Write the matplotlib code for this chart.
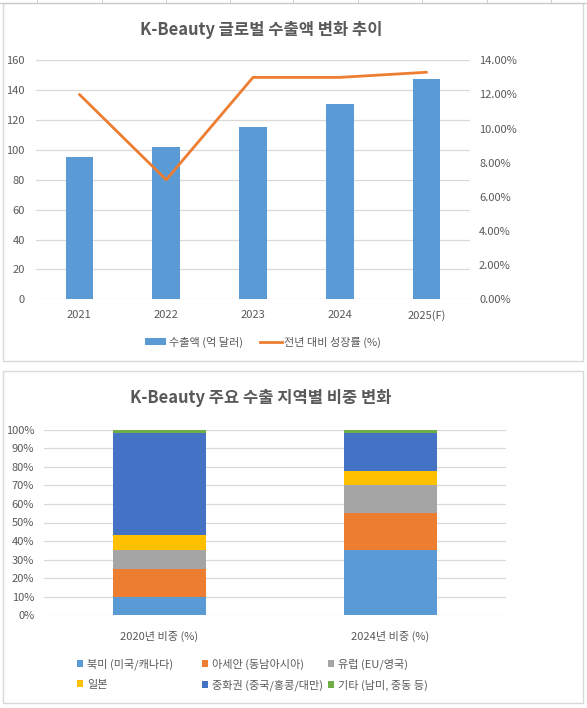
import matplotlib
matplotlib.use("Agg")
import matplotlib.pyplot as plt
import numpy as np
from matplotlib.patches import Rectangle, Patch
from matplotlib.lines import Line2D
from matplotlib.ticker import FuncFormatter

plt.rcParams['font.family'] = ['Noto Sans CJK KR', 'DejaVu Sans']

# ---- data: chart 1 ----
years = ["2021", "2022", "2023", "2024", "2025(F)"]
export_amount = [95.5, 102, 115.5, 131, 147.5]      # 억 달러
growth_rate = [0.12, 0.07, 0.13, 0.13, 0.133]       # 전년 대비 성장률

# ---- data: chart 2 ----
periods = ["2020년 비중 (%)", "2024년 비중 (%)"]
regions = ["북미 (미국/캐나다)", "아세안 (동남아시아)", "유럽 (EU/영국)",
           "일본", "중화권 (중국/홍콩/대만)", "기타 (남미, 중동 등)"]
share_2020 = [10, 15, 10, 8, 55, 2]
share_2024 = [35, 20, 15, 8, 20, 2]

region_colors = ["#5B9BD5", "#ED7D31", "#A5A5A5", "#FFC000", "#4472C4", "#70AD47"]
TXT = "#595959"
GRID = "#D9D9D9"
FS = 8

W, H = 587, 708
fig = plt.figure(figsize=(W / 100, H / 100), dpi=100)


def rect(l, t, r, b):
    return [l / W, 1 - b / H, (r - l) / W, (b - t) / H]


# spreadsheet cell lines peeking at top
for x in [37, 102, 166, 230, 293, 358, 422, 487, 551]:
    fig.add_artist(Line2D([x / W, x / W], [1, 1 - 3 / H], color="#D0D0D0", lw=0.8))
fig.add_artist(Line2D([0, 1], [1 - 2.5 / H, 1 - 2.5 / H], color="#C8C8C8", lw=0.8))

# panel frames
for (l, t, r, b) in [(3, 3, 583, 361), (3, 371, 583, 703)]:
    fig.add_artist(Rectangle((l / W, 1 - b / H), (r - l) / W, (b - t) / H,
                             transform=fig.transFigure, fill=False,
                             edgecolor="#D9D9D9", lw=1))

# ================= chart 1 =================
ax1 = fig.add_axes(rect(36, 60.3, 470, 299.3))
x1 = np.arange(len(years))
ax1.bar(x1, export_amount, width=0.32, color="#5B9BD5", zorder=2)
ax1.set_xlim(-0.5, len(years) - 0.5)
ax1.set_ylim(0, 160)
ax1.set_yticks(range(0, 161, 20))
ax1.set_xticks(x1)
ax1.set_xticklabels(years)
ax1.grid(axis="y", color=GRID, lw=0.9, zorder=0)
ax1.set_axisbelow(True)
for s in ax1.spines.values():
    s.set_visible(False)
ax1.tick_params(length=0, labelsize=FS, colors=TXT, pad=8)
ax1.tick_params(axis="x", pad=8)

ax1r = ax1.twinx()
ax1r.plot(x1, growth_rate, color="#ED7D31", lw=2.0, solid_capstyle="round", zorder=3)
ax1r.set_ylim(0, 0.14)
ax1r.set_yticks(np.arange(0, 0.141, 0.02))
ax1r.yaxis.set_major_formatter(FuncFormatter(lambda v, p: f"{v * 100:.2f}%"))
for s in ax1r.spines.values():
    s.set_visible(False)
ax1r.tick_params(length=0, labelsize=FS, colors=TXT, pad=6.5)

fig.text(261 / W, 1 - 30 / H, "K-Beauty 글로벌 수출액 변화 추이", ha="center", va="center",
         fontsize=11.9, fontweight="bold", color=TXT)

h1 = [Patch(facecolor="#5B9BD5"), Line2D([], [], color="#ED7D31", lw=2.0)]
fig.legend(h1, ["수출액 (억 달러)", "전년 대비 성장률 (%)"], loc="center",
           bbox_to_anchor=(263 / W, 1 - 342 / H), ncol=2, frameon=False,
           fontsize=FS, labelcolor=TXT, handlelength=1.9, handleheight=0.55,
           handletextpad=0.2, columnspacing=1.6)

# ================= chart 2 =================
ax2 = fig.add_axes(rect(44, 429.7, 506, 615.3))
x2 = np.arange(len(periods))
bottom = np.zeros(len(periods))
for name, a, b, c in zip(regions, share_2020, share_2024, region_colors):
    vals = np.array([a, b], dtype=float)
    ax2.bar(x2, vals, bottom=bottom, width=0.4, color=c, label=name, zorder=2)
    bottom += vals
ax2.set_xlim(-0.5, len(periods) - 0.5)
ax2.set_ylim(0, 100)
ax2.set_yticks(range(0, 101, 10))
ax2.yaxis.set_major_formatter(FuncFormatter(lambda v, p: f"{v:.0f}%"))
ax2.set_xticks(x2)
ax2.set_xticklabels(periods)
ax2.grid(axis="y", color=GRID, lw=0.9, zorder=0)
ax2.set_axisbelow(True)
for s in ax2.spines.values():
    s.set_visible(False)
ax2.tick_params(length=0, labelsize=FS, colors=TXT, pad=7)
ax2.tick_params(axis="x", pad=11)

fig.text(261 / W, 1 - 398 / H, "K-Beauty 주요 수출 지역별 비중 변화", ha="center", va="center",
         fontsize=11.9, fontweight="bold", color=TXT)

# legend laid out row-wise in three fixed columns, like the original
handles, labels = ax2.get_legend_handles_labels()
for col, x_left in enumerate([69, 194, 320]):
    idx = [col, col + 3]
    fig.legend([handles[i] for i in idx], [labels[i] for i in idx], loc="upper left",
               bbox_to_anchor=(x_left / W, 1 - 651 / H), ncol=1, frameon=False,
               fontsize=FS, labelcolor=TXT, handlelength=0.6, handleheight=0.6,
               handletextpad=0.3, labelspacing=0.85, borderpad=0.2)

fig.savefig("out.png", dpi=100)
